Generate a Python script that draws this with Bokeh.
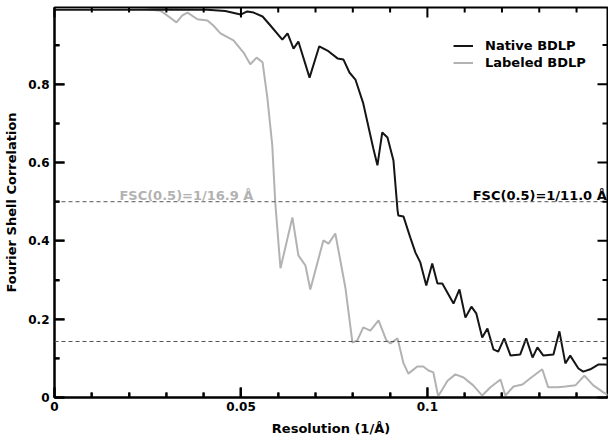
import math
from bokeh.plotting import figure
from bokeh.models import (Range1d, FixedTicker, NumeralTickFormatter,
                          Span, Label, Legend, LegendItem)
from bokeh.embed import file_html
from bokeh.resources import INLINE

# ---- data ----
native_res = [0, 0.0123, 0.0303, 0.041, 0.0458, 0.0499, 0.0517, 0.0534, 0.0558, 0.0579,
              0.0611, 0.0625, 0.0641, 0.0654, 0.0684, 0.0710, 0.0732, 0.0759, 0.0775, 0.0791,
              0.0807, 0.0828, 0.0855, 0.0866, 0.0879, 0.0893, 0.0909, 0.0920, 0.0922, 0.0936,
              0.0954, 0.0968, 0.0981, 0.0997, 0.1013, 0.1027, 0.1040, 0.1070, 0.1086, 0.1102,
              0.1118, 0.1131, 0.1147, 0.1161, 0.1177, 0.1190, 0.1206, 0.1223, 0.1249, 0.1265,
              0.1282, 0.1295, 0.1311, 0.1338, 0.1354, 0.1370, 0.1383, 0.1405, 0.1418, 0.1437,
              0.1458, 0.1477, 0.149]
native_fsc = [0.990, 0.990, 0.991, 0.990, 0.987, 0.978, 0.986, 0.983, 0.973, 0.950,
              0.914, 0.930, 0.891, 0.909, 0.817, 0.897, 0.886, 0.866, 0.863, 0.830,
              0.812, 0.751, 0.636, 0.593, 0.677, 0.664, 0.605, 0.478, 0.465, 0.462,
              0.409, 0.370, 0.345, 0.286, 0.342, 0.291, 0.291, 0.240, 0.276, 0.204,
              0.232, 0.215, 0.153, 0.176, 0.123, 0.117, 0.151, 0.107, 0.110, 0.151,
              0.102, 0.128, 0.107, 0.110, 0.169, 0.087, 0.107, 0.074, 0.066, 0.072,
              0.084, 0.084, 0.082]

labeled_res = [0, 0.0123, 0.0239, 0.0257, 0.0284, 0.0306, 0.0327, 0.0343, 0.0357, 0.0383,
               0.0410, 0.0426, 0.0445, 0.0480, 0.0507, 0.0525, 0.0542, 0.0558, 0.0571, 0.0584,
               0.0592, 0.0606, 0.0638, 0.0654, 0.0673, 0.0686, 0.0721, 0.0735, 0.0753, 0.0780,
               0.0799, 0.0812, 0.0828, 0.0847, 0.0869, 0.0890, 0.0901, 0.0920, 0.0936, 0.0949,
               0.0973, 0.0989, 0.1003, 0.1016, 0.1029, 0.1054, 0.1075, 0.1097, 0.1123, 0.1147,
               0.1169, 0.1196, 0.1209, 0.1231, 0.1255, 0.1276, 0.1308, 0.1324, 0.1349, 0.1370,
               0.1397, 0.1421, 0.1445, 0.1472, 0.149]
labeled_fsc = [0.992, 0.992, 0.992, 0.990, 0.988, 0.973, 0.958, 0.976, 0.983, 0.966,
               0.963, 0.950, 0.930, 0.912, 0.881, 0.851, 0.868, 0.856, 0.764, 0.644,
               0.498, 0.330, 0.460, 0.363, 0.337, 0.276, 0.401, 0.393, 0.419, 0.281,
               0.140, 0.146, 0.179, 0.171, 0.197, 0.146, 0.138, 0.151, 0.087, 0.061,
               0.079, 0.079, 0.069, 0.064, 0.003, 0.043, 0.059, 0.051, 0.031, 0.005,
               0.026, 0.046, 0.005, 0.028, 0.033, 0.049, 0.072, 0.026, 0.026, 0.028,
               0.031, 0.056, 0.031, 0.013, 0.003]

x_start, x_end = 0.0, 0.1483
y_start, y_end = 0.0, 0.996
x_major = [0, 0.05, 0.1]
x_minor = [0.01, 0.02, 0.03, 0.04, 0.06, 0.07, 0.08, 0.09, 0.11, 0.12, 0.13, 0.14]
y_major = [0, 0.2, 0.4, 0.6, 0.8]
y_minor = [0.1, 0.3, 0.5, 0.7, 0.9]
thresholds = [0.5, 0.143]
native_label = "FSC(0.5)=1/11.0 Å"
labeled_label = "FSC(0.5)=1/16.9 Å"

FONT = "DejaVu Sans"
GRAY = "#b2b2b2"

W, H = 608, 443
BL, BR, BT, BB = 54, 1, 7, 46

p = figure(width=W, height=H, output_backend="svg", toolbar_location=None,
           x_range=Range1d(x_start, x_end), y_range=Range1d(y_start, y_end),
           min_border_left=BL, min_border_right=BR, min_border_top=BT, min_border_bottom=BB)
p.grid.visible = False
p.outline_line_color = "black"
p.outline_line_width = 2

for ax in (p.xaxis[0], p.yaxis[0]):
    ax.axis_line_width = 2
    ax.axis_line_color = "black"
    ax.major_tick_in = 10
    ax.major_tick_out = 0
    ax.minor_tick_in = 5
    ax.minor_tick_out = 0
    ax.major_tick_line_color = "black"
    ax.minor_tick_line_color = "black"
    ax.major_tick_line_width = 2
    ax.minor_tick_line_width = 2
    ax.major_label_text_font = FONT
    ax.major_label_text_font_style = "bold"
    ax.major_label_text_font_size = "12px"
    ax.major_label_text_color = "black"
    ax.axis_label_text_font = FONT
    ax.axis_label_text_font_style = "bold"
    ax.axis_label_text_font_size = "13px"
    ax.axis_label_text_color = "black"

xa = p.xaxis[0]
xa.ticker = FixedTicker(ticks=x_major, minor_ticks=x_minor)
xa.formatter = NumeralTickFormatter(format="0.[00]")
xa.axis_label = "Resolution (1/Å)"
xa.major_label_standoff = 4
xa.axis_label_standoff = 7

ya = p.yaxis[0]
ya.ticker = FixedTicker(ticks=y_major, minor_ticks=y_minor)
ya.formatter = NumeralTickFormatter(format="0.[0]")
ya.axis_label = "Fourier Shell Correlation"
ya.major_label_standoff = 5
ya.axis_label_standoff = 6

for t in thresholds:
    p.add_layout(Span(location=t, dimension="width", line_dash="4 3",
                      line_color="#555555", line_width=1))

r_lab = p.line(labeled_res, labeled_fsc, line_color=GRAY, line_width=2)
r_nat = p.line(native_res, native_fsc, line_color="#151515", line_width=2)

# inward tick marks on all four edges, drawn last as one broken polyline
px_x = (W - BL - BR) / (x_end - x_start)
px_y = (H - BT - BB) / (y_end - y_start)
tick_x, tick_y = [], []
for ticks, length in ((x_major, 10), (x_minor, 5)):
    dy = length / px_y
    for v in ticks:
        tick_x += [v, v, math.nan, v, v, math.nan]
        tick_y += [y_start, y_start + dy, math.nan, y_end, y_end - dy, math.nan]
for ticks, length in ((y_major, 10), (y_minor, 5)):
    dx = length / px_x
    for v in ticks:
        tick_x += [x_start, x_start + dx, math.nan, x_end, x_end - dx, math.nan]
        tick_y += [v, v, math.nan, v, v, math.nan]
p.line(tick_x, tick_y, line_color="black", line_width=2, level="overlay")

p.add_layout(Label(x=0.0174, y=0.5166, text=labeled_label, text_font=FONT,
                   text_font_style="bold", text_font_size="13px", text_color=GRAY,
                   text_baseline="alphabetic", text_align="left"))
p.add_layout(Label(x=0.1481, y=0.5166, text=native_label, text_font=FONT,
                   text_font_style="bold", text_font_size="13px", text_color="black",
                   text_baseline="alphabetic", text_align="right"))

legend = Legend(items=[LegendItem(label="Native BDLP", renderers=[r_nat]),
                       LegendItem(label="Labeled BDLP", renderers=[r_lab])],
                location=(399, 326), orientation="vertical",
                border_line_color=None, background_fill_alpha=0,
                label_text_font=FONT, label_text_font_style="bold",
                label_text_font_size="13px", label_text_color="black",
                glyph_width=20, glyph_height=17, label_height=17,
                spacing=0, padding=0, margin=0, label_standoff=12)
p.add_layout(legend)

open("out.html", "w").write(file_html(p, INLINE))
